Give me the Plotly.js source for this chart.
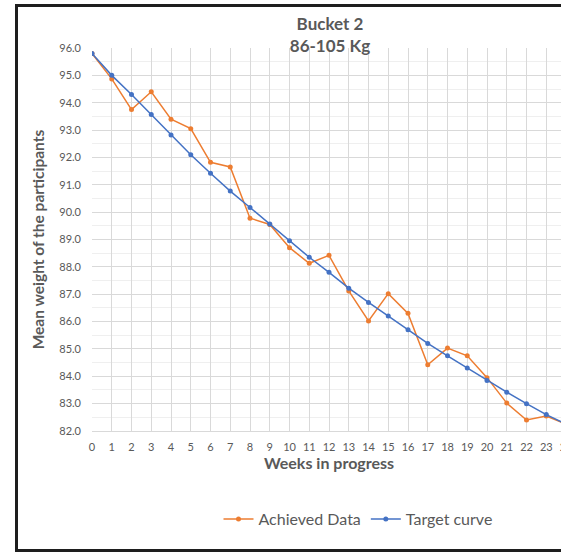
<!DOCTYPE html>
<html>
<head>
<meta charset="utf-8">
<script src="https://cdn.plot.ly/plotly-3.0.1.min.js"></script>
<style>
  html, body { margin: 0; padding: 0; background: #fff; overflow: hidden; width: 561px; height: 552px; }
  #chart { position: absolute; left: 0; top: 0; width: 640px; height: 552px; }
  #frame { position: absolute; left: 15px; top: 4px; width: 700px; height: 548px; border: 3px solid #1e1e1e; box-sizing: border-box; pointer-events: none; }
</style>
</head>
<body>
<div id="chart"></div>
<div id="frame"></div>
<script>
const weeks = [0,1,2,3,4,5,6,7,8,9,10,11,12,13,14,15,16,17,18,19,20,21,22,23,24];
const achieved = [95.8,94.87,93.75,94.4,93.4,93.05,91.82,91.65,89.78,89.55,88.7,88.13,88.42,87.12,86.02,87.02,86.3,84.42,85.03,84.75,83.95,83.02,82.4,82.55,82.25];
const target = [95.8,95.0,94.3,93.57,92.82,92.1,91.42,90.77,90.17,89.57,88.95,88.35,87.8,87.22,86.7,86.2,85.7,85.2,84.75,84.3,83.85,83.42,83.0,82.6,82.25];
const yTicks = [82,83,84,85,86,87,88,89,90,91,92,93,94,95,96];
const titleText = 'Bucket 2<br>86-105 Kg';
const xTitle = 'Weeks in progress';
const yTitle = 'Mean weight of the participants';
const seriesNames = ['Achieved Data', 'Target curve'];

const font = 'Lato, "Open Sans", "Noto Sans", sans-serif';
const grey = '#595959';

const traces = [
  { x: weeks, y: achieved, name: seriesNames[0], mode: 'lines+markers', type: 'scatter',
    line: { color: '#ED7D31', width: 1.5 }, marker: { color: '#ED7D31', size: 5, symbol: 'circle' } },
  { x: weeks, y: target, name: seriesNames[1], mode: 'lines+markers', type: 'scatter',
    line: { color: '#4472C4', width: 1.5 }, marker: { color: '#4472C4', size: 5, symbol: 'circle' } }
];

const layout = {
  width: 640, height: 552,
  margin: { l: 92, r: 74, t: 48, b: 121 },
  paper_bgcolor: '#fff', plot_bgcolor: '#fff',
  font: { family: font, color: grey },
  title: { text: '<b>' + titleText + '</b>', font: { family: font, size: 17, color: grey },
           x: 330 / 640, xanchor: 'center', y: 0.946, yanchor: 'top', yref: 'container' },
  xaxis: {
    range: [0, 24], tickmode: 'array', tickvals: weeks, ticktext: weeks.map(String),
    showgrid: true, gridcolor: '#d9d9d9', gridwidth: 1, zeroline: false,
    showline: true, linecolor: '#d9d9d9', ticks: '', tickfont: { size: 11, color: grey, family: font },
    ticklabelstandoff: 6,
    title: { text: '<b>' + xTitle + '</b>', font: { size: 16, color: grey, family: font }, standoff: 5 }
  },
  yaxis: {
    range: [82, 96], tickmode: 'array', tickvals: yTicks, ticktext: yTicks.map(v => v.toFixed(1)),
    showgrid: true, gridcolor: '#d9d9d9', gridwidth: 1, zeroline: false,
    minor: { dtick: 0.5, showgrid: true, gridcolor: '#efefef', gridwidth: 1 },
    showline: false, ticks: '', tickfont: { size: 11, color: grey, family: font }, ticklabelstandoff: 10,
    title: { text: '<b>' + yTitle + '</b>', font: { size: 15.5, color: grey, family: font }, standoff: 10 }
  },
  legend: { orientation: 'h', x: (358 - 92) / 474, xanchor: 'center', y: -88 / 383, yanchor: 'middle',
            font: { size: 16, color: grey, family: font }, itemwidth: 30, traceorder: 'normal' },
  showlegend: true
};

Plotly.newPlot('chart', traces, layout, { staticPlot: true, displayModeBar: false });
</script>
</body>
</html>
